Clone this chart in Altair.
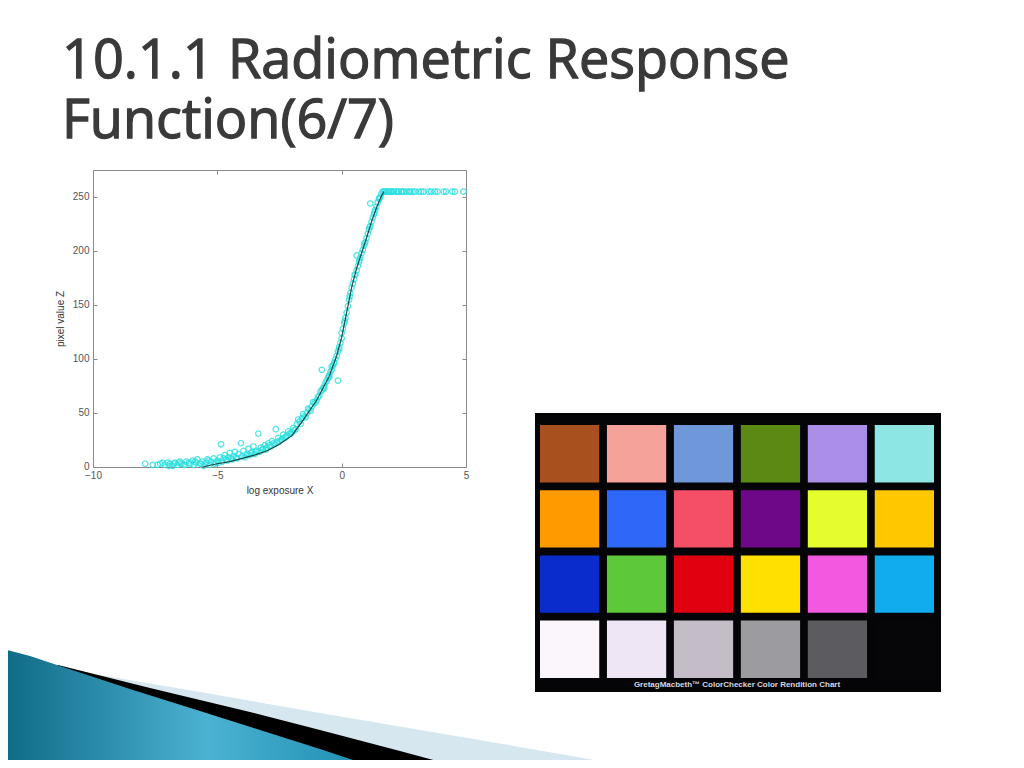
import altair as alt
import pandas as pd

# ---------------- data ----------------
TITLE_LINES = ["10.1.1 Radiometric Response", "Function(6/7)"]
X_LABEL = "log exposure X"
Y_LABEL = "pixel value Z"
X_TICKS = [-10, -5, 0, 5]
Y_TICKS = [0, 50, 100, 150, 200, 250]

SAMPLE_X = [
    -7.9, -7.4, -7.3, -7.1, -7.0, -6.9, -6.8, -6.7, -6.6, -6.5, -6.45, -6.3, -6.25, -6.1, -6.0,
    -5.95, -5.85, -5.8, -5.7, -5.6, -5.55, -5.45, -5.4, -5.3, -5.25, -5.15, -5.1, -5.0, -4.95, -4.9,
    -4.85, -4.8, -4.75, -4.7, -4.6, -4.55, -4.5, -4.4, -4.35, -4.3, -4.2, -4.15, -4.05, -4.0, -3.95,
    -3.9, -3.8, -3.75, -3.7, -3.6, -3.55, -3.5, -3.4, -3.35, -3.3, -3.25, -3.2, -3.1, -3.05, -3.0,
    -2.95, -2.85, -2.8, -2.7, -2.65, -2.6, -2.55, -2.5, -2.4, -2.35, -2.3, -2.2, -2.15, -2.1, -2.0,
    -1.95, -1.9, -1.8, -1.75, -1.7, -1.6, -1.55, -1.5, -1.4, -1.35, -1.3, -1.2, -1.15, -1.1, -1.0,
    -0.95, -0.9, -0.85, -0.8, -0.8, -0.75, -0.7, -0.65, -0.6, -0.55, -0.5, -0.45, -0.4, -0.4, -0.35,
    -0.3, -0.25, -0.2, -0.15, -0.15, -0.1, -0.05, 0.0, 0.0,
    0.05, 0.1, 0.15, 0.2, 0.25, 0.3, 0.35, 0.4, 0.45, 0.5, 0.55, 0.6, 0.6, 0.65, 0.7, 0.75, 0.8,
    0.85, 0.9, 0.95, 1.0, 1.05, 1.1, 1.15, 1.15, 1.2, 1.25, 1.3, 1.35, 1.4, 1.45, 1.5, 1.55, 1.6, 1.65,
    1.7, 1.75, 1.8, 1.85, 1.9, 1.95, 2.0, 2.05, 2.1, 2.2, 2.25, 2.3, 2.4, 2.45, 2.5, 2.6, 2.7, 2.75,
    2.85, 2.95, 3.1, 3.2, 3.3, 3.5, 3.6, 3.75, 3.85, 4.1, 4.2, 4.45, 4.55, 4.9,
    # second pass of samples hugging the curve
    -7.6, -7.2, -6.95, -6.75, -6.55, -6.35, -6.15, -5.9, -5.65, -5.35, -5.05, -4.65, -4.45,
    -4.25, -3.85, -3.65, -3.45, -3.15, -2.9, -2.75, -2.45, -2.25, -2.05, -1.85, -1.65, -1.45,
    -1.25, -1.05, -0.7, -0.5, -0.3, -0.1, 0.12, 0.32, 0.52, 0.72, 0.92, 1.12, 1.32, 1.52,
]
SAMPLE_Y = [
    3, 2, 3, 2, 4, 3, 1, 4, 2, 5, 3, 2, 5, 3, 6,
    2, 4, 7, 3, 5, 1, 4, 7, 2, 5, 8, 3, 6, 4, 9,
    21, 5, 8, 11, 6, 9, 13, 7, 10, 14, 8, 12, 22, 10, 15,
    9, 12, 17, 11, 14, 19, 12, 15, 31, 14, 18, 16, 20, 16, 18,
    22, 19, 24, 21, 35, 23, 27, 24, 26, 30, 27, 29, 33, 31, 32,
    36, 34, 40, 44, 42, 45, 49, 47, 50, 54, 53, 56, 60, 59, 62,
    65, 66, 70, 90, 71, 73, 75, 78, 80, 83, 85, 88, 93, 90, 94,
    97, 100, 103, 80, 107, 111, 115, 119, 124,
    128, 133, 138, 143, 149, 155, 161, 166, 170, 174, 178, 182, 196, 186, 190, 194, 198,
    201, 205, 208, 212, 216, 220, 244, 223, 227, 231, 234, 238, 241, 245, 248, 250, 253, 255,
    255, 255, 255, 255, 255, 255, 255, 255, 255, 255, 255, 255, 255, 255, 255, 255, 255, 255,
    255, 255, 255, 255, 255, 255, 255, 255, 255, 255, 255, 255, 255, 255,
    2, 4, 1, 3, 4, 2, 4, 5, 3, 6, 4, 7, 8,
    9, 11, 13, 14, 17, 20, 22, 25, 28, 31, 35, 40, 46,
    52, 60, 73, 83, 96, 109, 135, 158, 178, 192, 207, 222, 236, 249,
]
CURVE_X = [-5.6, -5.0, -4.5, -4.0, -3.5, -3.0, -2.5, -2.0, -1.5, -1.0, -0.5, -0.2, 0.0,
           0.2, 0.4, 0.6, 0.8, 1.0, 1.2, 1.4, 1.6, 1.7]
CURVE_Y = [0, 3, 5, 8, 11, 15, 21, 29, 45, 62, 84, 103, 120,
           143, 166, 184, 198, 212, 227, 240, 251, 255]

PATCH_COLORS = [
    ["#A8501E", "#F4A29A", "#6E98DA", "#5B8A14", "#AB8EE8", "#8EE6E2"],
    ["#FF9A00", "#2E68F8", "#F54F68", "#6E0888", "#E5FD2E", "#FFC700"],
    ["#0A2CCC", "#5CC83A", "#E00010", "#FFE000", "#F258E0", "#10ACEE"],
    ["#FAF6FC", "#EEE6F4", "#C4BCC6", "#9C9CA0", "#5C5C60", "#060608"],
]
CHECKER_CAPTION = "GretagMacbeth\u2122 ColorChecker Color Rendition Chart"

# decorative swoosh (slide coordinates, top edges)
SWOOSH_LIGHT_X = [100, 200, 320, 450, 560, 640]
SWOOSH_LIGHT_Y = [675, 692, 713, 735, 754, 768]
SWOOSH_BLACK_X = [58, 150, 250, 320, 400, 463]
SWOOSH_BLACK_Y = [665, 688, 712, 730, 751, 768]
SWOOSH_BLUE_X = [0, 30, 63, 133, 200, 260, 320, 377]
SWOOSH_BLUE_Y = [648, 656, 667, 690, 711, 730, 749, 768]

# ---------------- layout ----------------
W, H = 1008, 752
FONT = "Liberation Sans"
AX_GRAY = "#8a8a8a"

sx = alt.Scale(domain=[0, 1024], range=[-8, 1016], nice=False, zero=False)
sy = alt.Scale(domain=[0, 768], range=[-8, 760], nice=False, zero=False)

def swoosh(xs, ys, color):
    df = pd.DataFrame({"x": xs, "y": ys})
    return alt.Chart(df).mark_area(color=color).encode(
        x=alt.X("x:Q", scale=sx, axis=None),
        y=alt.Y("y:Q", scale=sy, axis=None),
        y2=alt.datum(768),
    )

blue_grad = alt.Gradient(
    gradient="linear",
    stops=[alt.GradientStop(color="#0d6985", offset=0),
           alt.GradientStop(color="#4cb2d2", offset=0.55),
           alt.GradientStop(color="#1a8cb0", offset=1)],
    x1=0, x2=1, y1=0, y2=0,
)
light = swoosh(SWOOSH_LIGHT_X, SWOOSH_LIGHT_Y, "#d7e7f0")
black = swoosh(SWOOSH_BLACK_X, SWOOSH_BLACK_Y, "#000000")
blue = swoosh(SWOOSH_BLUE_X, SWOOSH_BLUE_Y, blue_grad)

# ---- scatter plot ----
xs = alt.Scale(domain=[-10, 5], range=[85, 458], nice=False, zero=False)
ys = alt.Scale(domain=[0, 275], range=[459, 162], nice=False, zero=False)

samples = pd.DataFrame({"x": SAMPLE_X, "y": SAMPLE_Y})
curve = pd.DataFrame({"x": CURVE_X, "y": CURVE_Y})

points = alt.Chart(samples).mark_point(
    shape="circle", filled=False, size=30, strokeWidth=1.2, color="#2ee0e0", opacity=0.85
).encode(
    x=alt.X("x:Q", scale=xs, axis=alt.Axis(
        orient="bottom", offset=-(H - 459), values=X_TICKS, ticks=False, grid=False,
        domainColor=AX_GRAY, labelFont=FONT, labelFontSize=10, labelColor="#555555",
        labelPadding=3, labelFlush=False, labelOverlap=False,
        title=X_LABEL, titleFont=FONT, titleFontSize=10, titleFontWeight="normal",
        titleColor="#333333", titlePadding=5)),
    y=alt.Y("y:Q", scale=ys, axis=alt.Axis(
        orient="left", offset=-85, values=Y_TICKS, ticks=False, grid=False,
        domainColor=AX_GRAY, labelFont=FONT, labelFontSize=10, labelColor="#555555",
        labelPadding=4, labelFlush=False, labelOverlap=False, labelOffset=-1,
        title=Y_LABEL, titleFont=FONT, titleFontSize=10, titleFontWeight="normal",
        titleColor="#333333", titlePadding=7)),
)

line = alt.Chart(curve).mark_line(color="#0b2a2a", strokeWidth=1.2, opacity=0.85).encode(
    x=alt.X("x:Q", scale=xs, axis=alt.Axis(
        orient="top", offset=-459, values=X_TICKS, ticks=True, tickSize=4, tickColor=AX_GRAY,
        labels=False, domain=False, grid=False, title=None)),
    y=alt.Y("y:Q", scale=ys, axis=alt.Axis(
        orient="right", offset=-(W - 85), values=Y_TICKS, ticks=True, tickSize=4, tickColor=AX_GRAY,
        labels=False, domain=False, grid=False, title=None)),
)

box = alt.Chart(curve).mark_line(opacity=0).encode(
    x=alt.X("x:Q", scale=xs, axis=alt.Axis(
        orient="bottom", offset=-(H - 162), values=X_TICKS, ticks=True, tickSize=4, tickColor=AX_GRAY,
        labels=False, domain=True, domainColor=AX_GRAY, grid=False, title=None)),
    y=alt.Y("y:Q", scale=ys, axis=alt.Axis(
        orient="left", offset=-458, values=Y_TICKS, ticks=True, tickSize=4, tickColor=AX_GRAY,
        labels=False, domain=True, domainColor=AX_GRAY, grid=False, title=None)),
)

# ---- color checker ----
rows = []
for r, row in enumerate(PATCH_COLORS):
    for c, hexc in enumerate(row):
        rows.append({"row": r, "col": c, "hex": hexc})
patches_df = pd.DataFrame(rows)

board = alt.Chart(pd.DataFrame({"k": ["board"]})).mark_rect(color="#050508").encode(
    x=alt.value(527), x2=alt.value(933), y=alt.value(405), y2=alt.value(684)
)
patches = alt.Chart(patches_df).mark_rect().encode(
    x=alt.X("col:O", scale=alt.Scale(range=[532, 926], paddingInner=0.115, paddingOuter=0), axis=None),
    y=alt.Y("row:O", scale=alt.Scale(range=[417, 670], paddingInner=0.12, paddingOuter=0), axis=None),
    color=alt.Color("hex:N", scale=None),
)
caption = alt.Chart(pd.DataFrame({"t": [CHECKER_CAPTION]})).mark_text(
    align="center", baseline="middle", font=FONT, fontSize=8, fontWeight="bold", color="#d8d8e0"
).encode(x=alt.value(729), y=alt.value(677), text="t:N")

# ---- slide title (one text block, two lines) ----
title = alt.Chart(pd.DataFrame({"t": ["\n".join(TITLE_LINES)]})).mark_text(
    align="left", baseline="alphabetic", font="Open Sans", fontSize=54,
    fontWeight="normal", color="#3a3a3a", stroke="#3a3a3a", strokeWidth=1.3,
    lineBreak="\n", lineHeight=60
).encode(x=alt.value(54), y=alt.value(70), text="t:N")

chart = alt.layer(
    light, black, blue, board, patches, caption, points, line, box, title
).resolve_scale(
    x="independent", y="independent"
).properties(
    width=W, height=H, padding=0, background="white",
    autosize=alt.AutoSizeParams(type="none"),
).configure_view(stroke=None)

chart.save("out.html", embed_options={"renderer": "svg", "actions": False})
